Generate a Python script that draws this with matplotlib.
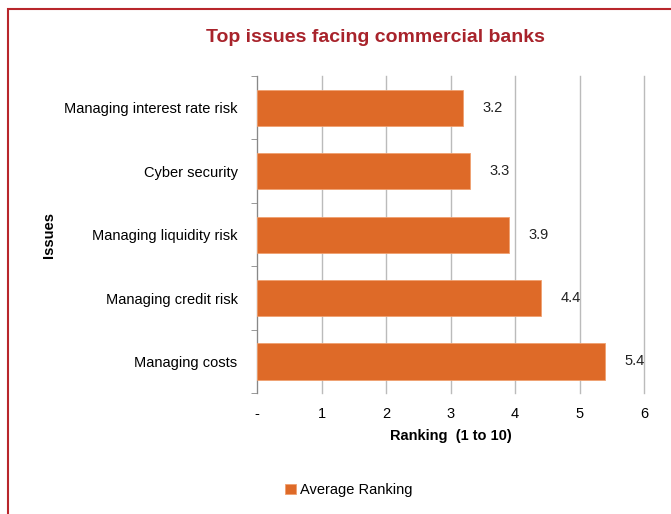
import matplotlib.pyplot as plt
from matplotlib.patches import Rectangle
import numpy as np

issues = ["Managing interest rate risk", "Cyber security", "Managing liquidity risk",
          "Managing credit risk", "Managing costs"]
ranking = [3.2, 3.3, 3.9, 4.4, 5.4]
xticks = [0, 1, 2, 3, 4, 5, 6]
xtick_labels = ["-", "1", "2", "3", "4", "5", "6"]

plt.rcParams['font.family'] = ['Liberation Sans', 'DejaVu Sans']

fig = plt.figure(figsize=(6.71, 5.14), dpi=100)
ax = fig.add_axes([0.383, 0.235, 0.577, 0.617])

# red frame around the chart (runs off right and bottom)
fig.patches.append(Rectangle((8 / 671, -0.1), 1.0, 1 - 9 / 514 + 0.1, transform=fig.transFigure,
                             fill=False, edgecolor='#B8262B', linewidth=1.5))

y = np.arange(len(issues))
ax.barh(y, ranking, height=0.57, color='#DE6A28', edgecolor='#F0A070', linewidth=0.6,
        label='Average Ranking', zorder=3)
for yi, v in zip(y, ranking):
    ax.text(v + 0.3, yi, f"{v:.1f}", va='center', ha='left', fontsize=10.5, color='#222222')

ax.set_xlim(0, 6)
ax.set_ylim(len(issues) - 0.5, -0.5)
ax.set_xticks(xticks)
ax.set_xticklabels(xtick_labels, fontsize=10.5)
ax.set_yticks(y)
ax.set_yticklabels(issues, fontsize=10.5)
ax.set_yticks(np.arange(len(issues) + 1) - 0.5, minor=True)
ax.tick_params(axis='y', which='major', length=0, pad=14)
ax.tick_params(axis='y', which='minor', length=4, color='#888888')
ax.tick_params(axis='x', length=0, pad=10)
ax.grid(axis='x', color='#BBBBBB', linewidth=1, zorder=0)
for gl in ax.get_xgridlines():
    gl.set_clip_on(False)
for s in ['top', 'right', 'bottom']:
    ax.spines[s].set_visible(False)
ax.spines['left'].set_color('#888888')

ax.set_xlabel("Ranking  (1 to 10)", fontsize=10.5, fontweight='bold', labelpad=6)
ax.set_ylabel("Issues", fontsize=10.5, fontweight='bold')
ax.yaxis.set_label_coords(-0.519, 0.5)

fig.text(0.56, 1 - 38 / 514, "Top issues facing commercial banks", ha='center', va='center',
         fontsize=14, fontweight='bold', color='#A8232B',
         family=['Liberation Sans Narrow', 'Liberation Sans'])

fig.legend(loc='center', bbox_to_anchor=(0.52, 1 - 490 / 514), frameon=False, fontsize=10.5,
           handlelength=0.7, handleheight=0.7, handletextpad=0.3)

fig.savefig('out.png', dpi=100)
